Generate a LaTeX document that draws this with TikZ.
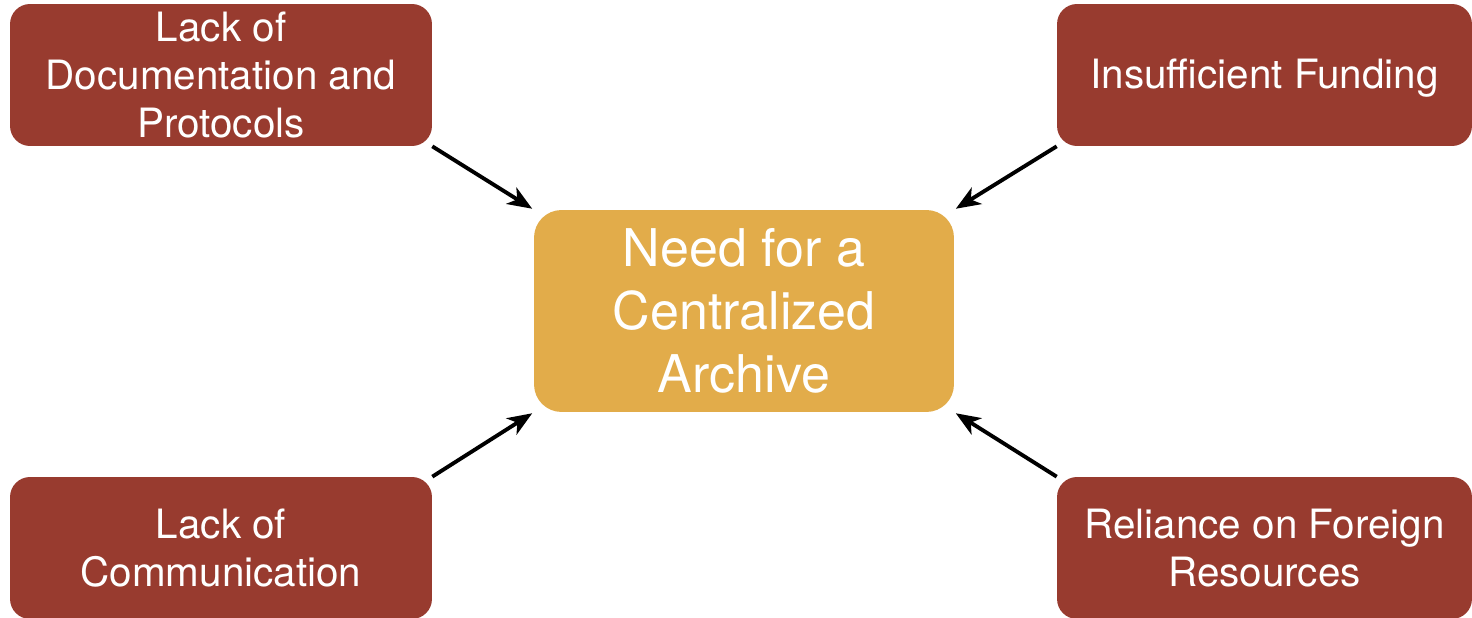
\documentclass[tikz,border=0pt]{standalone}
\usepackage{fontspec}
\setmainfont{TeX Gyre Heros}
\usetikzlibrary{arrows.meta, positioning}
\definecolor{causered}{HTML}{983B2F}
\definecolor{needgold}{HTML}{E2AC4A}

\begin{document}
\begin{tikzpicture}[
		x=0.02cm, y=-0.02cm,
		every node/.style={font=\fontsize{23}{27.5}\selectfont, text=white},
		cause/.style={fill=causered, rounded corners=0.4cm, minimum width=8.44cm, minimum height=2.84cm, align=center},
		need/.style={fill=needgold, rounded corners=0.55cm, minimum width=8.4cm, minimum height=4.04cm, align=center, font=\fontsize{29.6}{35.7}\selectfont},
		arrow/.style={line width=2.2pt, -{Stealth[length=14pt, width=11pt, inset=4pt]}, shorten >=1pt}
		]
		\useasboundingbox (0,0) rectangle (1472,618);
		
		% Nodos
		\node[need] (need) at (744,311) {Need for a\\Centralized\\Archive};
		\node[cause] (docs) at (221,75) {Lack of\\Documentation and\\Protocols};
		\node[cause, minimum width=8.3cm, text depth=0.1cm, text height=0.66cm] (funding) at (1264.5,75) {Insufficient Funding};
		\node[cause] (comm) at (221,548) {Lack of\\Communication};
		\node[cause, minimum width=8.3cm] (foreign) at (1264.5,548) {Reliance on Foreign\\Resources};
		
		% Flechas
		\draw[arrow] (docs.south east) -- (need.north west);
		\draw[arrow] (funding.south west) -- (need.north east);
		\draw[arrow] (comm.north east) -- (need.south west);
		\draw[arrow] (foreign.north west) -- (need.south east);
	\end{tikzpicture}
\end{document}
